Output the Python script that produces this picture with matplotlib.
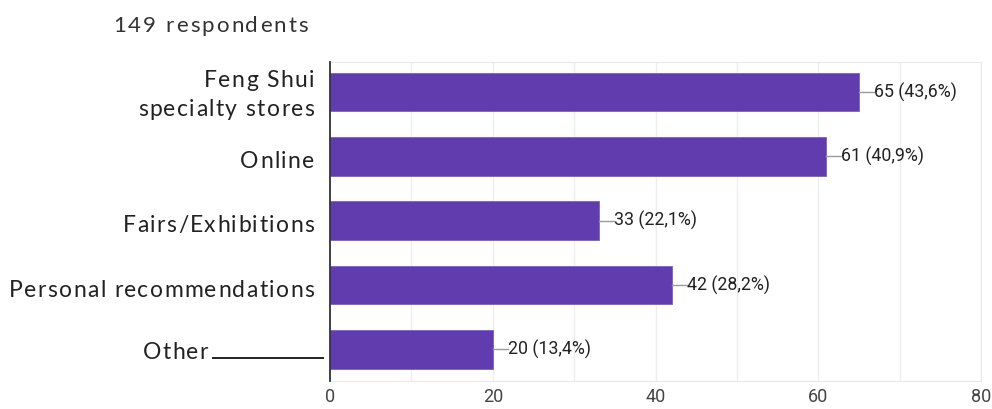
import matplotlib.pyplot as plt
from matplotlib.font_manager import FontProperties, findfont, get_font
from matplotlib.lines import Line2D
from matplotlib.ticker import MultipleLocator

categories = ["Feng Shui\nspecialty stores", "Online", "Fairs/Exhibitions",
              "Personal recommendations", "Other"]
counts = [65, 61, 33, 42, 20]
percent_labels = ["43,6%", "40,9%", "22,1%", "28,2%", "13,4%"]
respondents = 149
x_ticks = [0, 20, 40, 60, 80]

BAR_COLOR = "#603cae"
W, H = 992, 409


def tracked_text(fig, s, x_px, y_px, size, family, tracking, ha="left",
                 color="#222222"):
    """Draw text one glyph at a time with extra letter spacing (pixels).

    x_px, y_px are figure pixels measured from the top-left; y_px is the baseline.
    """
    prop = FontProperties(family=family, size=size)
    font = get_font(findfont(prop))
    font.set_size(size, fig.dpi)
    adv = [font.load_char(ord(ch)).linearHoriAdvance / 65536 + tracking for ch in s]
    total = sum(adv) - tracking
    x = x_px - total if ha == "right" else x_px
    for ch, a in zip(s, adv):
        if ch != " ":
            fig.text(x / W, 1 - y_px / H, ch, fontproperties=prop,
                     ha="left", va="baseline", color=color)
        x += a


fig = plt.figure(figsize=(W / 100, H / 100), dpi=100)
ax = fig.add_axes([330 / W, 1 - 381 / H, 651 / W, 319 / H])

y = list(range(len(categories)))
ax.barh(y, counts, height=0.6, color=BAR_COLOR, edgecolor="#7d5fc6",
        linewidth=0.6, zorder=3)

ax.set_xlim(0, 80)
ax.set_ylim(4.49, -0.466)
ax.xaxis.set_minor_locator(MultipleLocator(10))
ax.set_xticks(x_ticks)
ax.grid(True, axis="x", which="both", color="#eeeeee", linewidth=1, zorder=0)
ax.tick_params(axis="x", which="both", length=0, pad=5,
               labelsize=13, labelcolor="#444444")
for lab in ax.get_xticklabels():
    lab.set_family("Roboto")
ax.set_yticks([])

for side in ("top", "right", "bottom"):
    ax.spines[side].set_color("#e8e8e8")
ax.spines["left"].set_color("#333333")
ax.spines["left"].set_linewidth(1.3)
ax.spines["left"].set_zorder(4)

# value labels with short leader lines
for yi, c, p in zip(y, counts, percent_labels):
    ax.plot([c, c + 1.85], [yi, yi], color="#9a9a9a", linewidth=1, zorder=3)
    ax.text(c + 1.85, yi, f"{c} ({p})", va="center", ha="left",
            fontsize=12.8, family="Roboto", color="#222222")

# category labels, right aligned left of the axis
baselines = {0: [87, 116], 1: [168], 2: [232], 3: [297], 4: [359]}
for i, cat in enumerate(categories):
    for line, base in zip(cat.split("\n"), baselines[i]):
        right = 208 if cat == "Other" else 314
        tracked_text(fig, line, right, base, 16.5, "Lato", 1.4, ha="right")

# rule after "Other"
fig.add_artist(Line2D([213 / W, 323 / W], [1 - 358 / H, 1 - 358 / H],
                      color="#222222", linewidth=1.4))

tracked_text(fig, f"{respondents} respondents", 113, 32, 16, "Lato", 2.1,
             color="#333333")

fig.savefig("out.png", dpi=100)
